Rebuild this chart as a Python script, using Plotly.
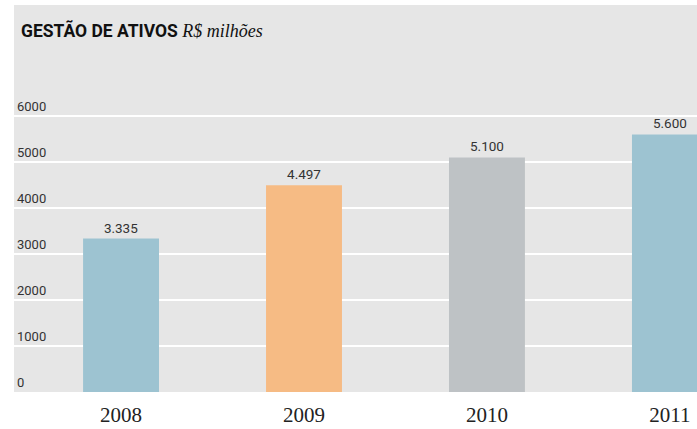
import plotly.graph_objects as go

anos = ["2008", "2009", "2010", "2011"]
valores = [3335, 4497, 5100, 5600]
cores = ["#9dc3d1", "#f6bb84", "#bec2c5", "#9dc3d1"]
ticks_y = [0, 1000, 2000, 3000, 4000, 5000, 6000]

sans = "Roboto, DejaVu Sans, sans-serif"
serif = "Liberation Serif, DejaVu Serif, serif"

fig = go.Figure(go.Bar(
    x=anos, y=valores,
    marker=dict(color=cores, line=dict(width=0)),
    width=0.415,
    texttemplate="%{y:,}",
    textposition="outside",
    textfont=dict(family=sans, size=13.5, color="#333333"),
    cliponaxis=False,
))

fig.update_layout(
    width=697, height=429,
    margin=dict(l=14, r=0, t=5, b=37),
    paper_bgcolor="white",
    plot_bgcolor="#e6e6e6",
    separators=",.",
    showlegend=False,
    xaxis=dict(
        type="category",
        range=[-0.585, 3.148],
        showgrid=False, zeroline=False, showline=False,
        ticks="",
        tickfont=dict(family=serif, size=21, color="#222222"),
        ticklabelstandoff=8,
    ),
    yaxis=dict(
        range=[0, 8413],
        tickvals=ticks_y,
        showgrid=True, gridcolor="white", gridwidth=2,
        zeroline=False, showline=False, ticks="",
        ticklabelposition="inside top",
        tickfont=dict(family=sans, size=13, color="#333333"),
    ),
    annotations=[
        dict(
            text="<b>GESTÃO DE ATIVOS</b> <i><span style='font-family:Liberation Serif, serif;font-size:18px'>R$ milhões</span></i>",
            xref="paper", yref="paper", x=0.008, y=0.934,
            xanchor="left", yanchor="middle", showarrow=False,
            font=dict(family=sans, size=17.5, color="#111111"),
        )
    ],
)

fig.write_html("out.html", config={"displayModeBar": False},
               post_script="document.body.style.margin='0';")
